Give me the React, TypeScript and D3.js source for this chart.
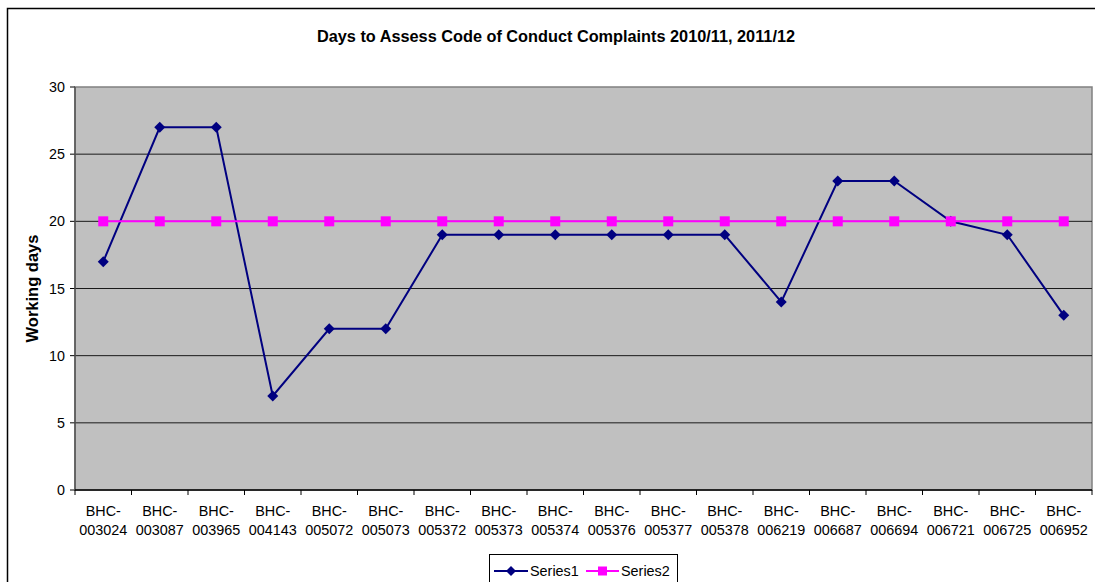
import * as d3 from "d3";

const categories = [
  "003024", "003087", "003965", "004143", "005072", "005073", "005372", "005373", "005374",
  "005376", "005377", "005378", "006219", "006687", "006694", "006721", "006725", "006952",
];
const series1 = [17, 27, 27, 7, 12, 12, 19, 19, 19, 19, 19, 19, 14, 23, 23, 20, 19, 13];
const series2 = [20, 20, 20, 20, 20, 20, 20, 20, 20, 20, 20, 20, 20, 20, 20, 20, 20, 20];
const yTicks = [0, 5, 10, 15, 20, 25, 30];

const width = 1095;
const height = 582;
const plot = { left: 75, right: 1092, top: 87, bottom: 490 };
const font = "Liberation Sans, Arial, sans-serif";

const App = () => {
  const x = d3
    .scaleBand<string>()
    .domain(categories)
    .range([plot.left, plot.right]);
  const y = d3.scaleLinear().domain([0, 30]).range([plot.bottom, plot.top]);
  const cx = (i: number) => (x(categories[i]) ?? 0) + x.bandwidth() / 2;

  const line = d3
    .line<number>()
    .x((_, i) => cx(i))
    .y((d) => y(d));

  const diamond = (px: number, py: number, r: number) =>
    `M${px},${py - r}L${px + r},${py}L${px},${py + r}L${px - r},${py}Z`;

  return (
    <svg
      width={width}
      height={height}
      style={{ position: "absolute", left: 0, top: 0, background: "#fff" }}
    >
      {/* outer chart frame */}
      <rect x={7.5} y={8.5} width={1098} height={600} fill="#fff" stroke="#000" strokeWidth={1.5} />

      <text
        x={556}
        y={42}
        textAnchor="middle"
        fontFamily={font}
        fontWeight="bold"
        fontSize={16.3}
      >
        Days to Assess Code of Conduct Complaints 2010/11, 2011/12
      </text>

      {/* plot area */}
      <rect
        x={plot.left}
        y={plot.top}
        width={plot.right - plot.left}
        height={plot.bottom - plot.top}
        fill="#C0C0C0"
        stroke="#808080"
        strokeWidth={1.5}
      />

      {/* gridlines and y ticks */}
      {yTicks.map((t) => (
        <g key={t}>
          {t > 0 && t < 30 && (
            <line x1={plot.left} x2={plot.right} y1={y(t)} y2={y(t)} stroke="#1a1a1a" strokeWidth={1} />
          )}
          <line x1={plot.left - 5} x2={plot.left} y1={y(t)} y2={y(t)} stroke="#000" />
          <text
            x={plot.left - 10}
            y={y(t) + 5}
            textAnchor="end"
            fontFamily={font}
            fontSize={14.3}
          >
            {t}
          </text>
        </g>
      ))}

      {/* axes */}
      <line x1={plot.left} x2={plot.left} y1={plot.top} y2={plot.bottom} stroke="#555" strokeWidth={1.5} />
      <line x1={plot.left} x2={plot.right} y1={plot.bottom} y2={plot.bottom} stroke="#000" strokeWidth={1.5} />

      {/* x ticks and labels */}
      {categories.map((c, i) => (
        <g key={c}>
          <line
            x1={x(c) ?? 0}
            x2={x(c) ?? 0}
            y1={plot.bottom}
            y2={plot.bottom + 5}
            stroke="#000"
          />
          <text x={cx(i)} y={516} textAnchor="middle" fontFamily={font} fontSize={14.4}>
            BHC-
          </text>
          <text x={cx(i)} y={535} textAnchor="middle" fontFamily={font} fontSize={14.4}>
            {c}
          </text>
        </g>
      ))}
      <line x1={plot.right} x2={plot.right} y1={plot.bottom} y2={plot.bottom + 5} stroke="#000" />

      <text
        transform={`translate(38,${(plot.top + plot.bottom) / 2}) rotate(-90)`}
        textAnchor="middle"
        fontFamily={font}
        fontWeight="bold"
        fontSize={16.5}
      >
        Working days
      </text>

      {/* Series1 */}
      <path d={line(series1) ?? ""} fill="none" stroke="#000080" strokeWidth={2} />
      {series1.map((v, i) => (
        <path key={i} d={diamond(cx(i), y(v), 5.5)} fill="#000080" />
      ))}

      {/* Series2 */}
      <path d={line(series2) ?? ""} fill="none" stroke="#FF00FF" strokeWidth={2} />
      {series2.map((v, i) => (
        <rect key={i} x={cx(i) - 5} y={y(v) - 5} width={10} height={10} fill="#FF00FF" />
      ))}

      {/* legend */}
      <rect x={489.5} y={554.5} width={188} height={40} fill="#fff" stroke="#000" />
      <line x1={494} x2={528} y1={571} y2={571} stroke="#000080" strokeWidth={2} />
      <path d={diamond(511, 571, 5)} fill="#000080" />
      <text x={530} y={576} fontFamily={font} fontSize={14.4}>
        Series1
      </text>
      <line x1={586} x2={619} y1={571} y2={571} stroke="#FF00FF" strokeWidth={2} />
      <rect x={598} y={566.5} width={9} height={9} fill="#FF00FF" />
      <text x={621} y={576} fontFamily={font} fontSize={14.4}>
        Series2
      </text>
    </svg>
  );
};

export default App;
